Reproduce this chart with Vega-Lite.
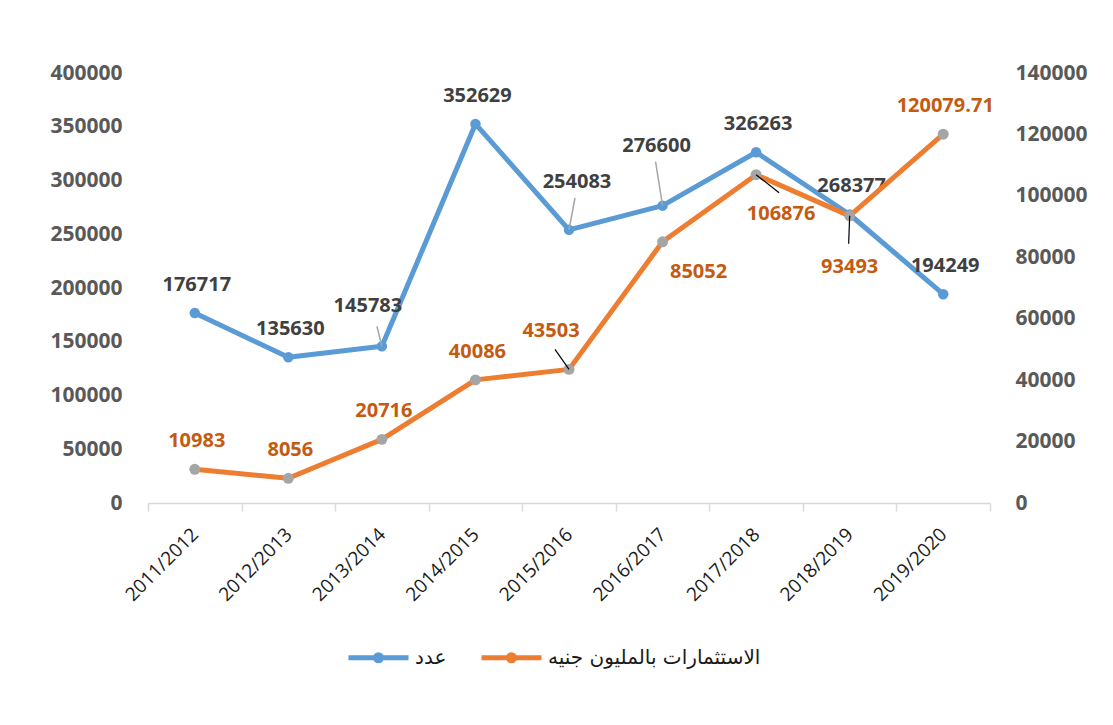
{
  "$schema": "https://vega.github.io/schema/vega-lite/v6.json",
  "width": 842,
  "height": 430,
  "autosize": {"type": "none"},
  "padding": {"left": 148, "top": 73, "right": 123, "bottom": 222},
  "background": "white",
  "config": {
    "font": "Open Sans",
    "view": {"stroke": null}
  },
  "data": {
    "values": [
      {"year": "2011/2012", "count": 176717, "invest": 10983},
      {"year": "2012/2013", "count": 135630, "invest": 8056},
      {"year": "2013/2014", "count": 145783, "invest": 20716},
      {"year": "2014/2015", "count": 352629, "invest": 40086},
      {"year": "2015/2016", "count": 254083, "invest": 43503},
      {"year": "2016/2017", "count": 276600, "invest": 85052},
      {"year": "2017/2018", "count": 326263, "invest": 106876},
      {"year": "2018/2019", "count": 268377, "invest": 93493},
      {"year": "2019/2020", "count": 194249, "invest": 120079.71}
    ]
  },
  "encoding": {
    "x": {
      "field": "year",
      "type": "nominal",
      "sort": null,
      "scale": {"type": "band", "paddingInner": 0, "paddingOuter": 0},
      "axis": {
        "title": null,
        "domainColor": "#D9D9D9",
        "domainWidth": 1.5,
        "tickColor": "#D9D9D9",
        "tickWidth": 1.5,
        "tickSize": 8,
        "tickBand": "extent",
        "labelAngle": -45,
        "labelAlign": "right",
        "labelBaseline": "middle",
        "labelFontSize": 19,
        "labelColor": "#1A1A1A",
        "labelPadding": 20,
        "grid": false
      }
    }
  },
  "layer": [
    {
      "encoding": {
        "y": {
          "field": "count",
          "type": "quantitative",
          "scale": {"domain": [0, 400000], "nice": false},
          "axis": {
            "orient": "left",
            "title": null,
            "values": [0, 50000, 100000, 150000, 200000, 250000, 300000, 350000, 400000],
            "format": "d",
            "domain": false,
            "ticks": false,
            "grid": false,
            "labelFontSize": 21,
            "labelFontWeight": "bold",
            "labelColor": "#595959",
            "labelPadding": 26
          }
        }
      },
      "layer": [
        {
          "mark": {"type": "line", "strokeWidth": 5, "strokeCap": "round", "strokeJoin": "round"},
          "encoding": {
            "color": {
              "datum": "عدد",
              "scale": {"domain": ["عدد", "الاستثمارات بالمليون جنيه"], "range": ["#5B9BD5", "#ED7D31"]},
              "legend": {
                "title": null,
                "orient": "none",
                "legendX": 198,
                "legendY": 552,
                "direction": "horizontal",
                "labelFont": "DejaVu Sans",
                "labelFontSize": 20,
                "labelColor": "#1A1A1A",
                "labelLimit": 0,
                "labelOffset": 4,
                "columnPadding": 24,
                "symbolType": "M-1,0H1M-0.1,0A0.1,0.1,0,1,0,0.1,0A0.1,0.1,0,1,0,-0.1,0",
                "symbolSize": 3600,
                "symbolStrokeWidth": 5,
                "symbolFillColor": "transparent"
              }
            }
          }
        },
        {"mark": {"type": "point", "filled": true, "size": 110, "color": "#5B9BD5", "opacity": 1}},
        {
          "transform": [{"filter": {"field": "year", "oneOf": ["2013/2014"]}}],
          "mark": {"type": "rule", "color": "#A6A6A6", "strokeWidth": 1.5, "x2Offset": -5, "y2Offset": -20},
          "encoding": {"x2": {"field": "year"}, "y2": {"field": "count"}}
        },
        {
          "transform": [{"filter": {"field": "year", "oneOf": ["2015/2016"]}}],
          "mark": {"type": "rule", "color": "#A6A6A6", "strokeWidth": 1.5, "x2Offset": 6, "y2Offset": -32},
          "encoding": {"x2": {"field": "year"}, "y2": {"field": "count"}}
        },
        {
          "transform": [{"filter": {"field": "year", "oneOf": ["2016/2017"]}}],
          "mark": {"type": "rule", "color": "#A6A6A6", "strokeWidth": 1.5, "x2Offset": -7, "y2Offset": -44},
          "encoding": {"x2": {"field": "year"}, "y2": {"field": "count"}}
        },
        {
          "transform": [{"filter": {"field": "year", "oneOf": ["2011/2012", "2012/2013", "2014/2015", "2017/2018", "2018/2019", "2019/2020"]}}],
          "mark": {"type": "text", "dx": 2, "dy": -28, "fontSize": 20, "fontWeight": "bold", "color": "#404040"},
          "encoding": {"text": {"field": "count", "type": "nominal"}}
        },
        {
          "transform": [{"filter": {"field": "year", "oneOf": ["2013/2014"]}}],
          "mark": {"type": "text", "dx": -14, "dy": -40, "fontSize": 20, "fontWeight": "bold", "color": "#404040"},
          "encoding": {"text": {"field": "count", "type": "nominal"}}
        },
        {
          "transform": [{"filter": {"field": "year", "oneOf": ["2015/2016"]}}],
          "mark": {"type": "text", "dx": 8, "dy": -48, "fontSize": 20, "fontWeight": "bold", "color": "#404040"},
          "encoding": {"text": {"field": "count", "type": "nominal"}}
        },
        {
          "transform": [{"filter": {"field": "year", "oneOf": ["2016/2017"]}}],
          "mark": {"type": "text", "dx": -6, "dy": -60, "fontSize": 20, "fontWeight": "bold", "color": "#404040"},
          "encoding": {"text": {"field": "count", "type": "nominal"}}
        }
      ]
    },
    {
      "encoding": {
        "y": {
          "field": "invest",
          "type": "quantitative",
          "scale": {"domain": [0, 140000], "nice": false},
          "axis": {
            "orient": "right",
            "title": null,
            "values": [0, 20000, 40000, 60000, 80000, 100000, 120000, 140000],
            "format": "d",
            "domain": false,
            "ticks": false,
            "grid": false,
            "labelFontSize": 21,
            "labelFontWeight": "bold",
            "labelColor": "#595959",
            "labelPadding": 25
          }
        }
      },
      "layer": [
        {
          "mark": {"type": "line", "strokeWidth": 5, "strokeCap": "round", "strokeJoin": "round"},
          "encoding": {"color": {"datum": "الاستثمارات بالمليون جنيه"}}
        },
        {"mark": {"type": "point", "filled": true, "size": 120, "color": "#A5A5A5", "opacity": 1}},
        {
          "transform": [{"filter": {"field": "year", "oneOf": ["2015/2016"]}}],
          "mark": {"type": "rule", "color": "#000000", "strokeWidth": 1.2, "x2Offset": -14, "y2Offset": -20},
          "encoding": {"x2": {"field": "year"}, "y2": {"field": "invest"}}
        },
        {
          "transform": [{"filter": {"field": "year", "oneOf": ["2017/2018"]}}],
          "mark": {"type": "rule", "color": "#000000", "strokeWidth": 1.2, "x2Offset": 23, "y2Offset": 18},
          "encoding": {"x2": {"field": "year"}, "y2": {"field": "invest"}}
        },
        {
          "transform": [{"filter": {"field": "year", "oneOf": ["2018/2019"]}}],
          "mark": {"type": "rule", "color": "#000000", "strokeWidth": 1.2, "x2Offset": -1, "y2Offset": 28},
          "encoding": {"x2": {"field": "year"}, "y2": {"field": "invest"}}
        },
        {
          "transform": [{"filter": {"field": "year", "oneOf": ["2011/2012", "2012/2013", "2013/2014", "2014/2015", "2019/2020"]}}],
          "mark": {"type": "text", "dx": 2, "dy": -28, "fontSize": 20, "fontWeight": "bold", "color": "#C55A11"},
          "encoding": {"text": {"field": "invest", "type": "nominal"}}
        },
        {
          "transform": [{"filter": {"field": "year", "oneOf": ["2015/2016"]}}],
          "mark": {"type": "text", "dx": -18, "dy": -38, "fontSize": 20, "fontWeight": "bold", "color": "#C55A11"},
          "encoding": {"text": {"field": "invest", "type": "nominal"}}
        },
        {
          "transform": [{"filter": {"field": "year", "oneOf": ["2016/2017"]}}],
          "mark": {"type": "text", "dx": 36, "dy": 30, "fontSize": 20, "fontWeight": "bold", "color": "#C55A11"},
          "encoding": {"text": {"field": "invest", "type": "nominal"}}
        },
        {
          "transform": [{"filter": {"field": "year", "oneOf": ["2017/2018"]}}],
          "mark": {"type": "text", "dx": 25, "dy": 39, "fontSize": 20, "fontWeight": "bold", "color": "#C55A11"},
          "encoding": {"text": {"field": "invest", "type": "nominal"}}
        },
        {
          "transform": [{"filter": {"field": "year", "oneOf": ["2018/2019"]}}],
          "mark": {"type": "text", "dx": 0, "dy": 51, "fontSize": 20, "fontWeight": "bold", "color": "#C55A11"},
          "encoding": {"text": {"field": "invest", "type": "nominal"}}
        }
      ]
    }
  ],
  "resolve": {"scale": {"y": "independent"}}
}
